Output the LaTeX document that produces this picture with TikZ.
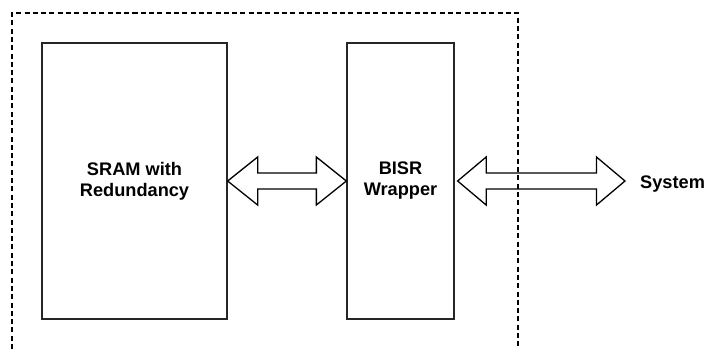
\documentclass[tikz,border=0pt]{standalone}
\usepackage{fontspec}
\setmainfont{Liberation Sans}
\usetikzlibrary{calc}

% Hollow two-headed block arrow between two points: #1 start, #2 end, #3 head length
\newcommand{\twowayarrow}[3]{%
  \draw[fatarrow] let \p1=#1, \p2=#2 in
    (\p1) -- (\x1+#3,\y1+24pt) -- (\x1+#3,\y1+8pt) -- (\x2-#3,\y1+8pt)
    -- (\x2-#3,\y1+24pt) -- (\x2,\y1) -- (\x2-#3,\y1-24pt) -- (\x2-#3,\y1-8pt)
    -- (\x1+#3,\y1-8pt) -- (\x1+#3,\y1-24pt) -- cycle;}

\begin{document}
\begin{tikzpicture}[x=1pt,y=-1pt,
  labeltext/.style={font=\fontsize{18.2}{21}\selectfont\bfseries, align=center, text=black},
  block/.style={draw=black!85, line width=1.3pt, inner sep=0pt, labeltext},
  fatarrow/.style={draw=black, line width=1.3pt, fill=white, line join=miter},
  frame/.style={draw=black, line width=1.3pt, dash pattern=on 5pt off 3.3pt}
]
\useasboundingbox (0,0) rectangle (705,349);

% memory and wrapper blocks
\node[block, minimum width=185pt, minimum height=276pt] (sram) at (134.5,181) {SRAM with\\Redundancy};
\node[block, minimum width=107pt, minimum height=276pt] (bisr) at (400.5,181) {BISR\\Wrapper};

% system label and the end point of the outer link
\node[labeltext, inner sep=0pt, anchor=base west] (sys) at (640,188) {System};
\coordinate (linkstart) at ($(bisr.east)+(3,0)$);
\coordinate (linkend) at (625,181);

% bidirectional links
\twowayarrow{(sram.east)}{(bisr.west)}{30pt}
\twowayarrow{(linkstart)}{(linkend)}{28.5pt}

% open dashed boundary, drawn over the outer link
\draw[frame] (12,349) |- (518,13) -- (518,349);
\end{tikzpicture}
\end{document}
